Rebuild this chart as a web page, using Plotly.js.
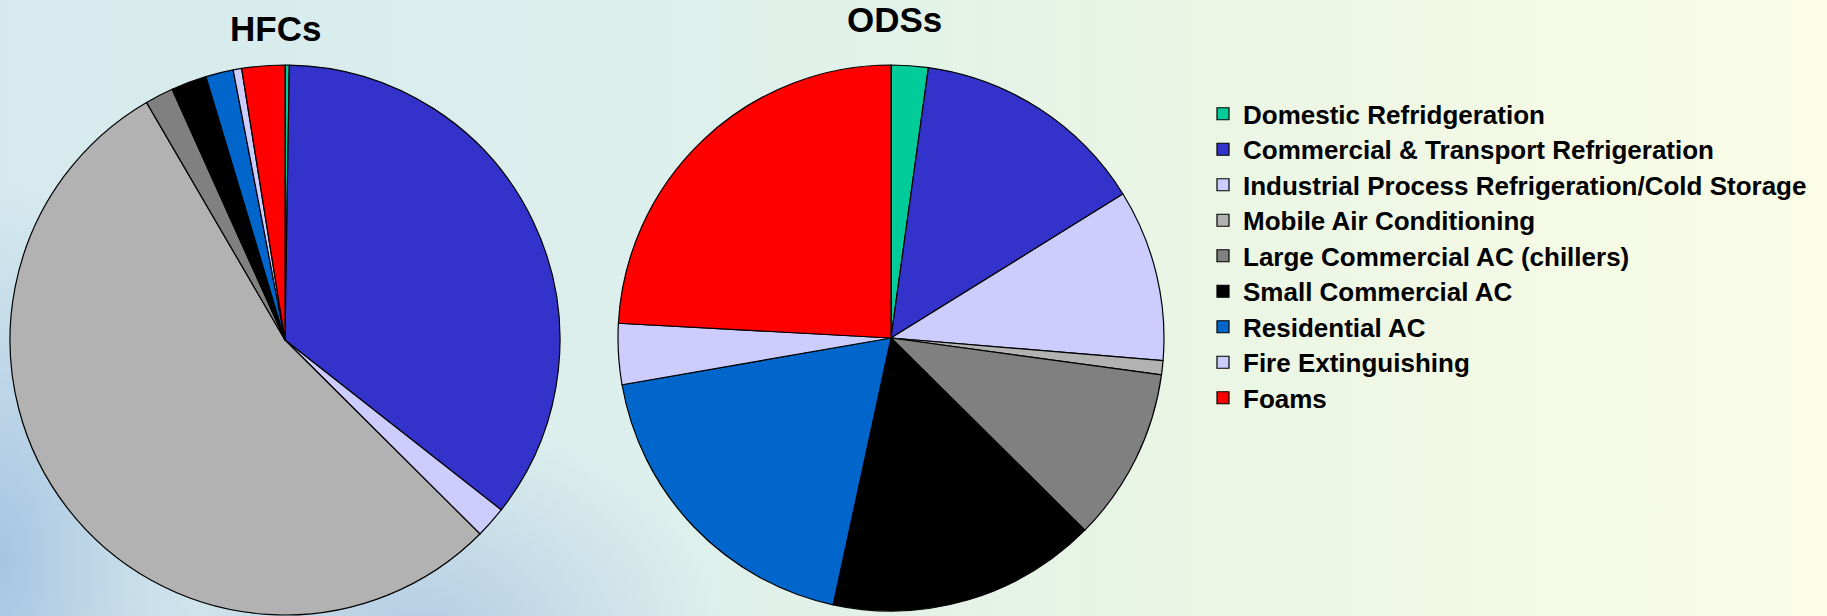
<!DOCTYPE html>
<html>
<head>
<meta charset="utf-8">
<script src="https://cdn.plot.ly/plotly-3.0.1.min.js"></script>
<style>
html, body { margin: 0; padding: 0; }
body {
  width: 1827px; height: 616px; overflow: hidden;
  background:
    radial-gradient(ellipse 200px 380px at 0px 560px, rgba(130,165,215,0.55), rgba(130,165,215,0) 100%),
    radial-gradient(ellipse 300px 220px at 420px 640px, rgba(140,170,220,0.5), rgba(140,170,220,0) 100%),
    linear-gradient(to right, #d6eaee 0%, #dcefec 35%, #eaf5e4 65%, #fbfde6 100%);
}
#chart { width: 1827px; height: 616px; }
</style>
</head>
<body>
<div id="chart"></div>
<script>
const categories = [
  "Domestic Refridgeration",
  "Commercial & Transport Refrigeration",
  "Industrial Process Refrigeration/Cold Storage",
  "Mobile Air Conditioning",
  "Large Commercial AC (chillers)",
  "Small Commercial AC",
  "Residential AC",
  "Fire Extinguishing",
  "Foams"
];
const hfcValues = [0.25, 35.35, 1.86, 54.14, 1.67, 2.09, 1.62, 0.5, 2.52];
const odsValues = [2.19, 13.97, 10.16, 0.84, 10.27, 15.97, 18.86, 3.6, 24.14];
const sliceColors = ["#00CC99", "#3333CC", "#CCCCFF", "#B2B2B2", "#808080", "#000000", "#0066CC", "#CCCCFF", "#FF0000"];
const chartTitles = ["HFCs", "ODSs"];

const W = 1827, H = 616;
const shownLabels = categories.map(c => '<span style="font-size:26px">' + c.replace(/&/g, "&amp;") + '</span>');

function pieTrace(values, cx, cy, r, name) {
  return {
    type: "pie",
    name: name,
    labels: shownLabels,
    values: values,
    sort: false,
    direction: "clockwise",
    rotation: 0,
    textinfo: "none",
    hoverinfo: "label+percent",
    marker: { colors: sliceColors, line: { color: "#000000", width: 1.2 } },
    domain: { x: [(cx - r) / W, (cx + r) / W], y: [1 - (cy + r) / H, 1 - (cy - r) / H] }
  };
}

const data = [
  pieTrace(hfcValues, 285, 340, 275, chartTitles[0]),
  pieTrace(odsValues, 891, 338, 273, chartTitles[1])
];

const layout = {
  width: W, height: H,
  margin: { l: 0, r: 0, t: 0, b: 0 },
  paper_bgcolor: "rgba(0,0,0,0)",
  plot_bgcolor: "rgba(0,0,0,0)",
  showlegend: true,
  legend: {
    x: 1203 / W, xanchor: "left",
    y: 1 - 91 / H, yanchor: "top",
    bgcolor: "rgba(0,0,0,0)",
    itemwidth: 30,
    font: { family: "'Liberation Sans', Arial, sans-serif", size: 25, color: "#000000", weight: "bold" }
  },
  annotations: [
    { text: "<b>" + chartTitles[0] + "</b>", x: 275 / W, y: 1 - 29 / H, xref: "paper", yref: "paper", showarrow: false,
      xanchor: "center", yanchor: "middle", font: { family: "'Liberation Sans', Arial, sans-serif", size: 35, color: "#000000" } },
    { text: "<b>" + chartTitles[1] + "</b>", x: 894 / W, y: 1 - 20 / H, xref: "paper", yref: "paper", showarrow: false,
      xanchor: "center", yanchor: "middle", font: { family: "'Liberation Sans', Arial, sans-serif", size: 35, color: "#000000" } }
  ]
};

Plotly.newPlot("chart", data, layout, { displayModeBar: false, responsive: false });
</script>
</body>
</html>
